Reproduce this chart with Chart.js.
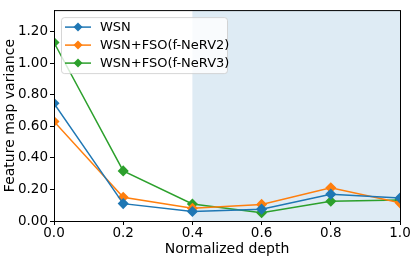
<!DOCTYPE html>
<html>
<head>
<meta charset="utf-8">
<script src="https://cdn.jsdelivr.net/npm/chart.js@4/dist/chart.umd.min.js"></script>
<style>
  html, body { margin: 0; padding: 0; background: #fff; }
  #wrap { width: 415px; height: 259px; }
</style>
</head>
<body>
<div id="wrap"><canvas id="grafico"></canvas></div>
<script>
const profundidade = [0.0, 0.2, 0.4, 0.6, 0.8, 1.0];
const wsn = [0.745, 0.11, 0.06, 0.075, 0.17, 0.145];
const fnerv2 = [0.63, 0.15, 0.08, 0.105, 0.21, 0.115];
const fnerv3 = [1.13, 0.317, 0.108, 0.052, 0.125, 0.133];
const nomes = ['WSN', 'WSN+FSO(f-NeRV2)', 'WSN+FSO(f-NeRV3)'];
const cores = ['#1f77b4', '#ff7f0e', '#2ca02c'];
const marcasY = [0, 0.2, 0.4, 0.6, 0.8, 1.0, 1.2];
const faixa = [0.4, 1.0];

const fonte = 'DejaVu Sans';

function serie(i, valores) {
  return {
    label: nomes[i],
    data: profundidade.map((x, k) => ({ x: x, y: valores[k] })),
    borderColor: cores[i],
    backgroundColor: cores[i],
    borderWidth: 1.5,
    pointStyle: 'rectRot',
    pointRadius: 4.5,
    pointHoverRadius: 4.5,
    tension: 0
  };
}

// faixa sombreada
const sombra = {
  id: 'sombra',
  beforeDatasetsDraw(chart) {
    const { ctx, chartArea, scales } = chart;
    const x0 = scales.x.getPixelForValue(faixa[0]);
    const x1 = scales.x.getPixelForValue(faixa[1]);
    ctx.save();
    ctx.fillStyle = 'rgba(31,119,180,0.15)';
    ctx.fillRect(x0, chartArea.top, x1 - x0, chartArea.bottom - chartArea.top);
    ctx.restore();
  }
};

// moldura e legenda
const moldura = {
  id: 'moldura',
  afterDraw(chart) {
    const { ctx, chartArea } = chart;
    ctx.save();
    ctx.strokeStyle = '#000';
    ctx.lineWidth = 1;
    ctx.strokeRect(chartArea.left + 0.5, chartArea.top + 0.5,
      chartArea.right - chartArea.left, chartArea.bottom - chartArea.top);

    const bx = chartArea.left + 7, by = chartArea.top + 7, bw = 166, bh = 56;
    ctx.globalAlpha = 0.8;
    ctx.fillStyle = '#fff';
    ctx.strokeStyle = '#ccc';
    ctx.beginPath();
    ctx.roundRect(bx + 0.5, by + 0.5, bw, bh, 3);
    ctx.fill();
    ctx.stroke();
    ctx.globalAlpha = 1;
    ctx.font = '13px "' + fonte + '"';
    ctx.textBaseline = 'middle';
    nomes.forEach((n, i) => {
      const y = by + 10 + i * 18;
      ctx.strokeStyle = cores[i];
      ctx.fillStyle = cores[i];
      ctx.lineWidth = 1.5;
      ctx.beginPath();
      ctx.moveTo(bx + 4, y);
      ctx.lineTo(bx + 30, y);
      ctx.stroke();
      const mx = bx + 17, r = 4.5;
      ctx.beginPath();
      ctx.moveTo(mx, y - r);
      ctx.lineTo(mx + r, y);
      ctx.lineTo(mx, y + r);
      ctx.lineTo(mx - r, y);
      ctx.closePath();
      ctx.fill();
      ctx.fillStyle = '#000';
      ctx.fillText(n, bx + 39, y + 1);
    });
    ctx.restore();
  }
};

new Chart(document.getElementById('grafico').getContext('2d'), {
  type: 'line',
  data: {
    datasets: [serie(0, wsn), serie(1, fnerv2), serie(2, fnerv3)]
  },
  options: {
    responsive: true,
    maintainAspectRatio: false,
    animation: false,
    layout: { padding: { top: 5, right: 15, left: 2, bottom: 0 } },
    plugins: {
      legend: { display: false },
      tooltip: { enabled: false }
    },
    scales: {
      x: {
        type: 'linear',
        min: 0,
        max: 1,
        grid: { drawOnChartArea: false, drawTicks: true, tickLength: 4, color: '#000' },
        border: { display: true, color: '#000' },
        ticks: {
          stepSize: 0.2,
          color: '#000',
          padding: 0,
          font: { family: fonte, size: 13.5 },
          callback: v => v.toFixed(1)
        },
        title: {
          display: true,
          text: 'Normalized depth',
          color: '#000',
          padding: { top: 0, bottom: 1 },
          font: { family: fonte, size: 14 }
        }
      },
      y: {
        min: 0,
        max: 1.335,
        afterFit(scale) { scale.width = 52; },
        afterBuildTicks(scale) { scale.ticks = marcasY.map(v => ({ value: v })); },
        grid: { drawOnChartArea: false, drawTicks: true, tickLength: 4, color: '#000' },
        border: { display: true, color: '#000' },
        ticks: {
          color: '#000',
          padding: 2,
          font: { family: fonte, size: 13.5 },
          callback: v => v.toFixed(2)
        },
        title: {
          display: true,
          text: 'Feature map variance',
          color: '#000',
          padding: { top: 0, bottom: 0 },
          font: { family: fonte, size: 14 }
        }
      }
    }
  },
  plugins: [sombra, moldura]
});
</script>
</body>
</html>
